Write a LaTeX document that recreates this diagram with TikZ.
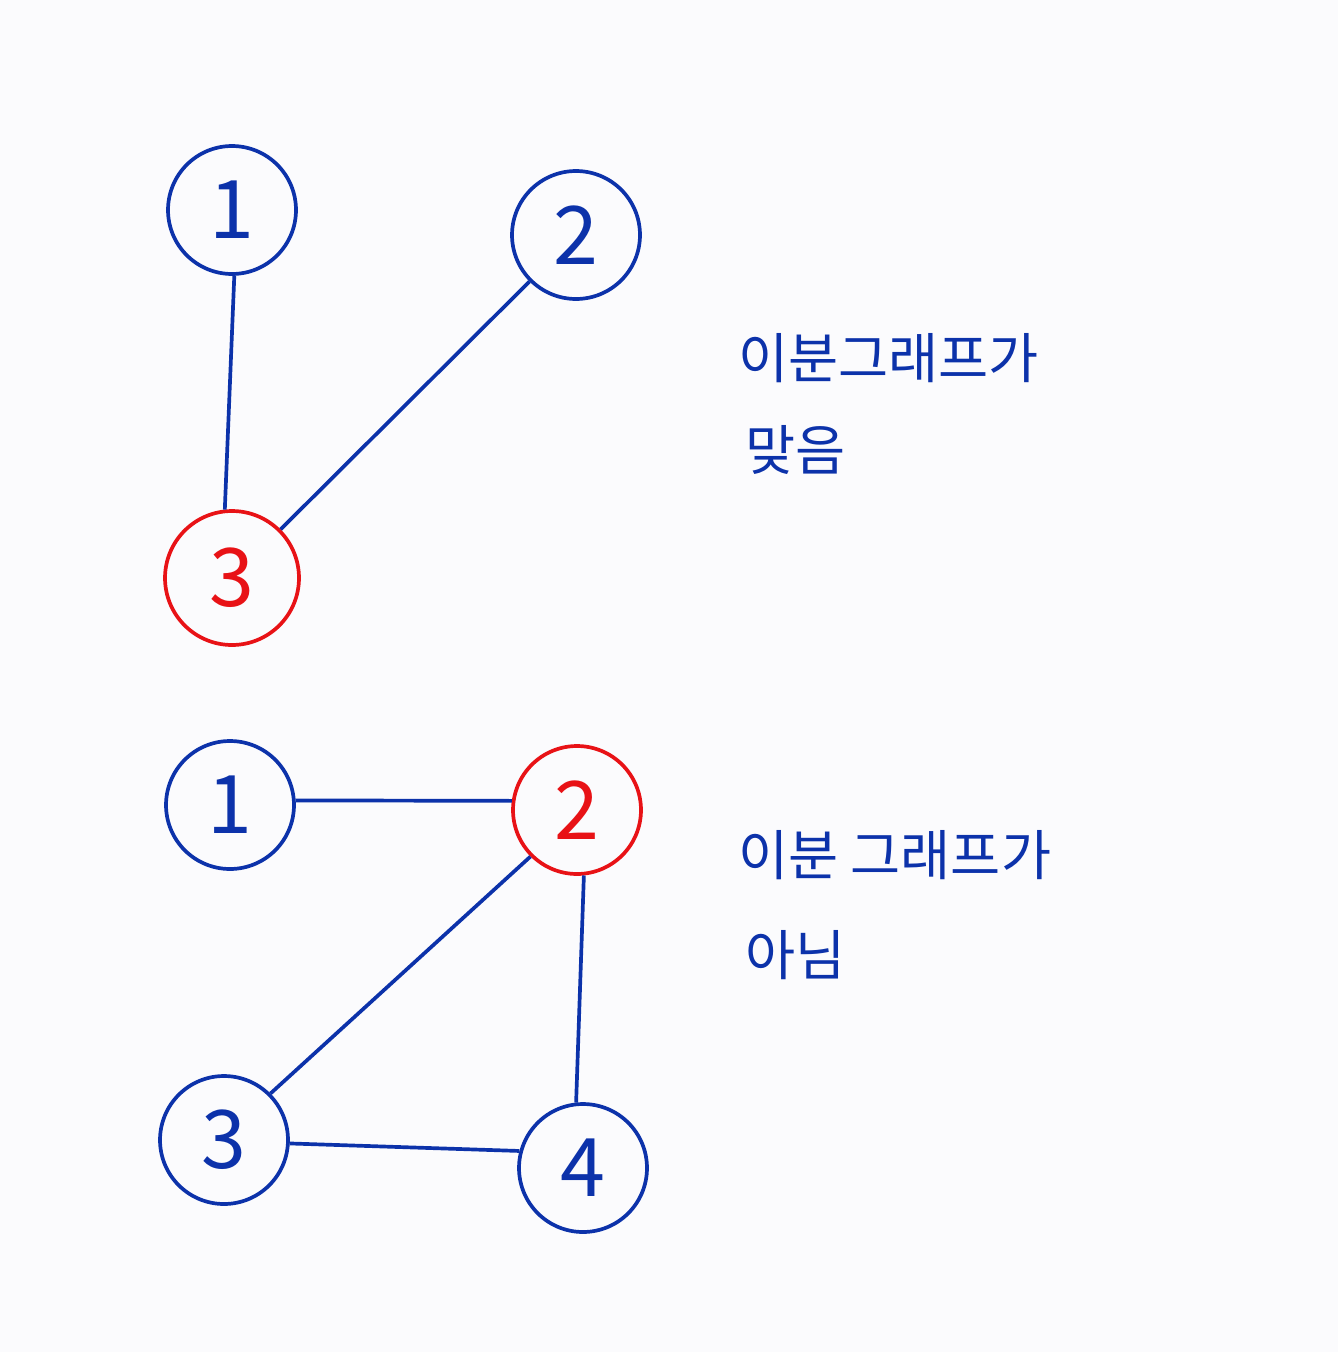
\documentclass[tikz,border=0pt]{standalone}
\usepackage{fontspec}
\setmainfont{Noto Sans CJK KR}
\definecolor{penblue}{RGB}{12,50,170}
\definecolor{penred}{RGB}{232,18,22}
\definecolor{paper}{RGB}{251,251,253}
\usepackage{tikz}
\usetikzlibrary{positioning}

\begin{document}
\begin{tikzpicture}[
  x=0.02cm, y=-0.02cm,
  vtx/.style={circle, draw=penblue, line width=2.1pt, minimum size=2.56cm,
    inner sep=0pt, text=penblue, font=\fontsize{46}{50}\selectfont},
  hot/.style={vtx, draw=penred, text=penred},
  edg/.style={penblue, line width=2.1pt},
  note/.style={anchor=west, text=penblue, inner sep=0pt,
    font=\fontsize{31}{36}\selectfont},
]
\fill[paper] (0,0) rectangle (1338,1352);
\useasboundingbox (0,0) rectangle (1338,1352);

% bipartite graph
\node[vtx] (a1) at (232,210) {1};
\node[vtx] (a2) at (576,235) {2};
\node[hot, minimum size=2.68cm] (a3) at (232,578) {3};
\draw[edg] (a1.272) -- (a3.96);
\draw[edg] (a2.-135) -- (a3.45);
\node[note] (ta) at (738,358) {이분그래프가};
\node[note] (tb) at (745,450) {맞음};

% not bipartite
\node[vtx] (b1) at (230,805) {1};
\node[hot] (b2) at (577,810) {2};
\node[vtx] (b3) at (224,1140) {3};
\node[vtx] (b4) at (583,1168) {4};
\draw[edg] (b1.4) -- (b2.172);
\draw[edg] (b2.-135) -- (b3.45);
\draw[edg] (b2.-84) -- (b4.96);
\draw[edg] (b3.-3) -- (b4.165);
\node[note] (tc) at (738,855) {이분 그래프가};
\node[note] (td) at (745,955) {아님};
\end{tikzpicture}
\end{document}
